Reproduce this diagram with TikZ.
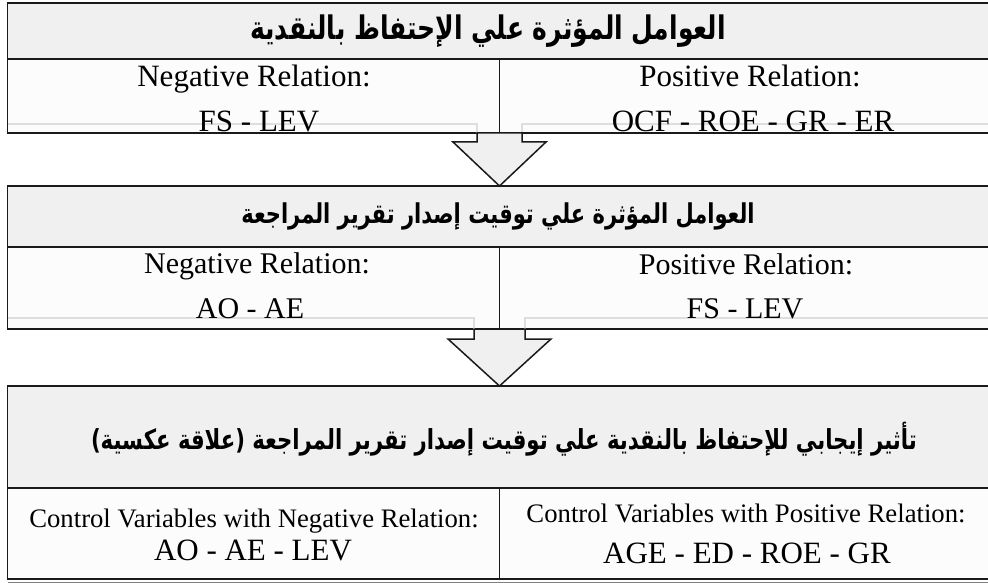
\documentclass[tikz,border=0pt]{standalone}
\usepackage{fontspec}
\setmainfont{Liberation Serif}
\newfontfamily\arabicfont[Script=Arabic]{DejaVu Sans}
\TeXXeTstate=1
\usetikzlibrary{positioning}
\definecolor{headc}{RGB}{240,240,240}
\definecolor{cellc}{RGB}{252,252,252}
\definecolor{ghostc}{RGB}{222,222,222}
\definecolor{linec}{RGB}{26,26,26}
\newcommand{\artitle}[1]{\scalebox{1}[1.3]{\beginR #1\endR}}
\tikzset{
  box/.style={draw=linec, line width=1.5pt, anchor=north west, inner sep=0pt, outer sep=0pt},
  head/.style={box, fill=headc},
  cell/.style={box, fill=cellc},
  title/.style={font=\arabicfont\bfseries\fontsize{21}{24}\selectfont},
  lbl/.style={anchor=base, inner sep=0pt, font=\fontsize{31}{33}\selectfont},
  small/.style={lbl, font=\fontsize{26.7}{28}\selectfont},
  ghost/.style={draw=ghostc, line width=1.2pt},
  blockarrow/.style={draw=linec, line width=1.5pt, fill=headc, line join=miter}
}

\begin{document}
\begin{tikzpicture}[x=1pt, y=-1pt]
  \useasboundingbox (0,0) rectangle (988,583);
  \clip (0,0) rectangle (988,583);

  % block 1
  \node[head, minimum width=1000pt, minimum height=56pt] (h1) at (7.5,3) {};
  \node[cell, minimum width=492pt, minimum height=74pt] (n1) at (7.5,59) {};
  \node[cell, minimum width=500pt, minimum height=74pt] (p1) at (499.5,59) {};
  \draw[ghost] ([yshift=9pt]n1.south west) -- ++(469.5,0) -- ++(0,9);
  \draw[ghost] ([xshift=22.5pt]n1.south east) -- ++(0,-9) -- ++(500,0);
  \node[title, font=\arabicfont\bfseries\fontsize{25}{28}\selectfont] (t1) at (488,31) {\artitle{العوامل المؤثرة علي الإحتفاظ بالنقدية}};
  \node[lbl] (n1a) at (254,87) {Negative Relation:};
  \node[lbl] (n1b) at (259,132) {FS - LEV};
  \node[lbl] (p1a) at (750,87) {Positive Relation:};
  \node[lbl] (p1b) at (753,132) {OCF - ROE - GR - ER};

  % block 2
  \node[head, minimum width=1000pt, minimum height=61pt] (h2) at (7.5,186) {};
  \node[cell, minimum width=492pt, minimum height=82pt] (n2) at (7.5,247) {};
  \node[cell, minimum width=500pt, minimum height=82pt] (p2) at (499.5,247) {};
  \draw[ghost] ([yshift=11pt]n2.south west) -- ++(466.5,0) -- ++(0,11);
  \draw[ghost] ([xshift=25.5pt]n2.south east) -- ++(0,-11) -- ++(500,0);
  \node[title] (t2) at (498,216) {\artitle{العوامل المؤثرة علي توقيت إصدار تقرير المراجعة}};
  \node[lbl, font=\fontsize{30}{32}\selectfont] (n2a) at (257,273) {Negative Relation:};
  \node[lbl, font=\fontsize{30}{32}\selectfont] (n2b) at (250,318) {AO - AE};
  \node[lbl, font=\fontsize{30}{32}\selectfont] (p2a) at (746,274) {Positive Relation:};
  \node[lbl, font=\fontsize{30}{32}\selectfont] (p2b) at (745,318) {FS - LEV};

  % block 3
  \node[head, minimum width=1000pt, minimum height=102pt] (h3) at (7.5,386) {};
  \node[cell, minimum width=492pt, minimum height=91pt] (n3) at (7.5,488) {};
  \node[cell, minimum width=500pt, minimum height=91pt] (p3) at (499.5,488) {};
  \draw[gray, line width=1pt] ([yshift=-3pt]n3.south west) -- ([yshift=-3pt]p3.south east);
  \node[title, font=\arabicfont\bfseries\fontsize{21.2}{24}\selectfont] (t3) at (504,439) {\artitle{تأثير إيجابي للإحتفاظ بالنقدية علي توقيت إصدار تقرير المراجعة (علاقة عكسية)}};
  \node[small] (n3a) at (254,527) {Control Variables with Negative Relation:};
  \node[lbl] (n3b) at (253,560) {AO - AE - LEV};
  \node[small] (p3a) at (746,522) {Control Variables with Positive Relation:};
  \node[lbl] (p3b) at (747,563) {AGE - ED - ROE - GR};

  % arrows between blocks
  \draw[blockarrow] ([xshift=-22.5pt]n1.south east) -- ++(0,9) -- ++(-24,0)
    -- (n1.south east |- h2.north) -- ++(46.5,-44) -- ++(-24,0) -- ++(0,-9) -- cycle;
  \draw[blockarrow] ([xshift=-25.5pt]n2.south east) -- ++(0,10) -- ++(-26,0)
    -- (n2.south east |- h3.north) -- ++(51.5,-47) -- ++(-26,0) -- ++(0,-10) -- cycle;
\end{tikzpicture}
\end{document}
